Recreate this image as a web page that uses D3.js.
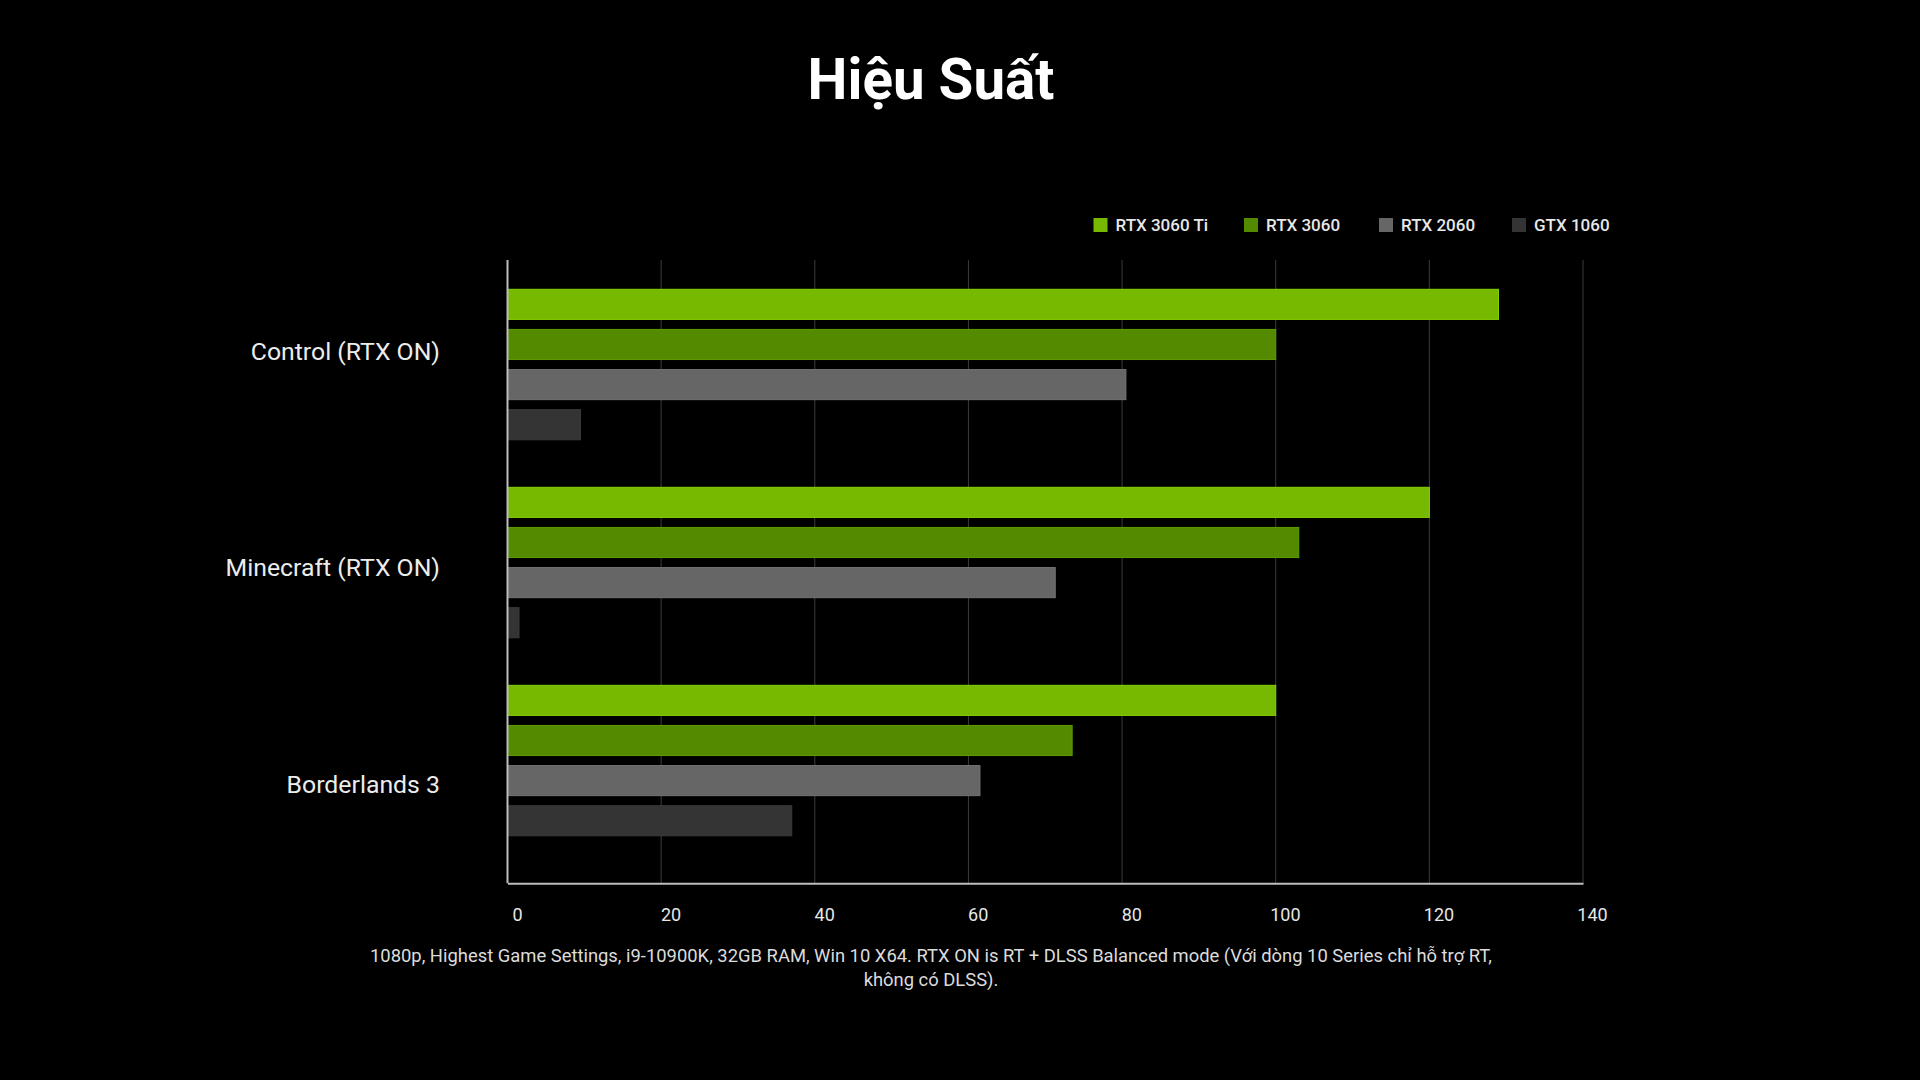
<!DOCTYPE html>
<html>
<head>
<meta charset="utf-8">
<script src="https://cdn.jsdelivr.net/npm/d3@7"></script>
<style>
  html, body { margin: 0; padding: 0; background: #000; }
  svg { display: block; }
</style>
</head>
<body>
<svg id="chart" width="1920" height="1080"></svg>
<script>
const title = "Hiệu Suất";
const categories = ["Control (RTX ON)", "Minecraft (RTX ON)", "Borderlands 3"];
const seriesNames = ["RTX 3060 Ti", "RTX 3060", "RTX 2060", "GTX 1060"];
const seriesColors = ["#76b900", "#548a00", "#666666", "#343434"];
const rtx3060ti = [129, 120, 100];
const rtx3060 = [100, 103, 73.5];
const rtx2060 = [80.5, 71.3, 61.5];
const gtx1060 = [9.5, 1.5, 37];
const xTicks = [0, 20, 40, 60, 80, 100, 120, 140];
const footnoteLines = [
  "1080p, Highest Game Settings, i9-10900K, 32GB RAM, Win 10 X64. RTX ON is RT + DLSS Balanced mode (Với dòng 10 Series chỉ hỗ trợ RT,",
  "không có DLSS)."
];

const seriesValues = [rtx3060ti, rtx3060, rtx2060, gtx1060];
const data = categories.map((c, i) => ({
  category: c,
  values: seriesNames.map((s, j) => ({ series: s, value: seriesValues[j][i] }))
}));

const svg = d3.select("#chart");
const font = "Roboto, 'Noto Sans', sans-serif";

const plotLeft = 507.5, plotRight = 1583, plotTop = 260, plotBottom = 883.3;

const x = d3.scaleLinear().domain([0, 140]).range([plotLeft, plotRight]);
const xLabel = d3.scaleLinear().domain([0, 140]).range([517, 1592]);
const y0 = d3.scaleBand().domain(categories).range([289.3, 835.8]).paddingInner(0.24);
const y1 = d3.scaleBand().domain(seriesNames).range([0, y0.bandwidth()]).paddingInner(0.25);
const yLabel = d3.scalePoint().domain(categories).range([351, 784]);
const color = d3.scaleOrdinal().domain(seriesNames).range(seriesColors);

// Title
svg.append("text")
  .attr("x", 931).attr("y", 99)
  .attr("text-anchor", "middle")
  .attr("fill", "#ffffff")
  .attr("font-family", font)
  .attr("font-weight", 700)
  .attr("font-size", 56.5)
  .text(title);

// Gridlines
svg.append("g")
  .selectAll("line")
  .data(xTicks.filter(d => d > 0))
  .join("line")
  .attr("x1", d => x(d)).attr("x2", d => x(d))
  .attr("y1", plotTop).attr("y2", plotBottom)
  .attr("stroke", "#3c3c3c")
  .attr("stroke-width", 1);

// Bars
const groups = svg.append("g")
  .selectAll("g")
  .data(data)
  .join("g")
  .attr("transform", d => `translate(0,${y0(d.category)})`);

groups.selectAll("rect")
  .data(d => d.values)
  .join("rect")
  .attr("x", x(0))
  .attr("y", d => y1(d.series))
  .attr("width", d => x(d.value) - x(0))
  .attr("height", y1.bandwidth())
  .attr("fill", d => color(d.series))
  .attr("stroke", d => d3.color(color(d.series)).brighter(0.35))
  .attr("stroke-width", 1);

// Axes
const xAxis = d3.axisBottom(x).tickValues(xTicks).tickSize(0).tickPadding(0);
const gx = svg.append("g")
  .attr("transform", `translate(0,${plotBottom})`)
  .call(xAxis);
gx.select(".domain").attr("stroke", "#bdbdbd").attr("stroke-width", 2);
gx.selectAll(".tick text")
  .attr("x", d => xLabel(d) - x(d))
  .attr("dy", 0)
  .attr("y", 38)
  .attr("fill", "#e6e6e6")
  .attr("font-family", font)
  .attr("font-size", 18);

svg.append("line")
  .attr("x1", plotLeft).attr("x2", plotLeft)
  .attr("y1", plotTop).attr("y2", plotBottom)
  .attr("stroke", "#bdbdbd")
  .attr("stroke-width", 2);

// Category labels
svg.append("g")
  .selectAll("text")
  .data(categories)
  .join("text")
  .attr("x", 440)
  .attr("y", d => yLabel(d))
  .attr("dy", "0.35em")
  .attr("text-anchor", "end")
  .attr("fill", "#ececec")
  .attr("font-family", font)
  .attr("font-size", 24.8)
  .text(d => d);

// Legend
const legendX = [1093.5, 1244, 1379, 1512];
const legend = svg.append("g")
  .selectAll("g")
  .data(seriesNames)
  .join("g")
  .attr("transform", (d, i) => `translate(${legendX[i]},225)`);
legend.append("rect")
  .attr("x", 0).attr("y", -7)
  .attr("width", 14).attr("height", 14)
  .attr("fill", d => color(d));
legend.append("text")
  .attr("x", 22).attr("y", 0)
  .attr("dy", "0.36em")
  .attr("fill", "#e8e8e8")
  .attr("font-family", font)
  .attr("font-weight", 500)
  .attr("font-size", 17)
  .text(d => d);

// Footnote
svg.append("g")
  .selectAll("text")
  .data(footnoteLines)
  .join("text")
  .attr("x", 931)
  .attr("y", (d, i) => 962 + i * 24)
  .attr("text-anchor", "middle")
  .attr("fill", "#dcdcdc")
  .attr("font-family", font)
  .attr("font-size", 18.4)
  .text(d => d);
</script>
</body>
</html>
